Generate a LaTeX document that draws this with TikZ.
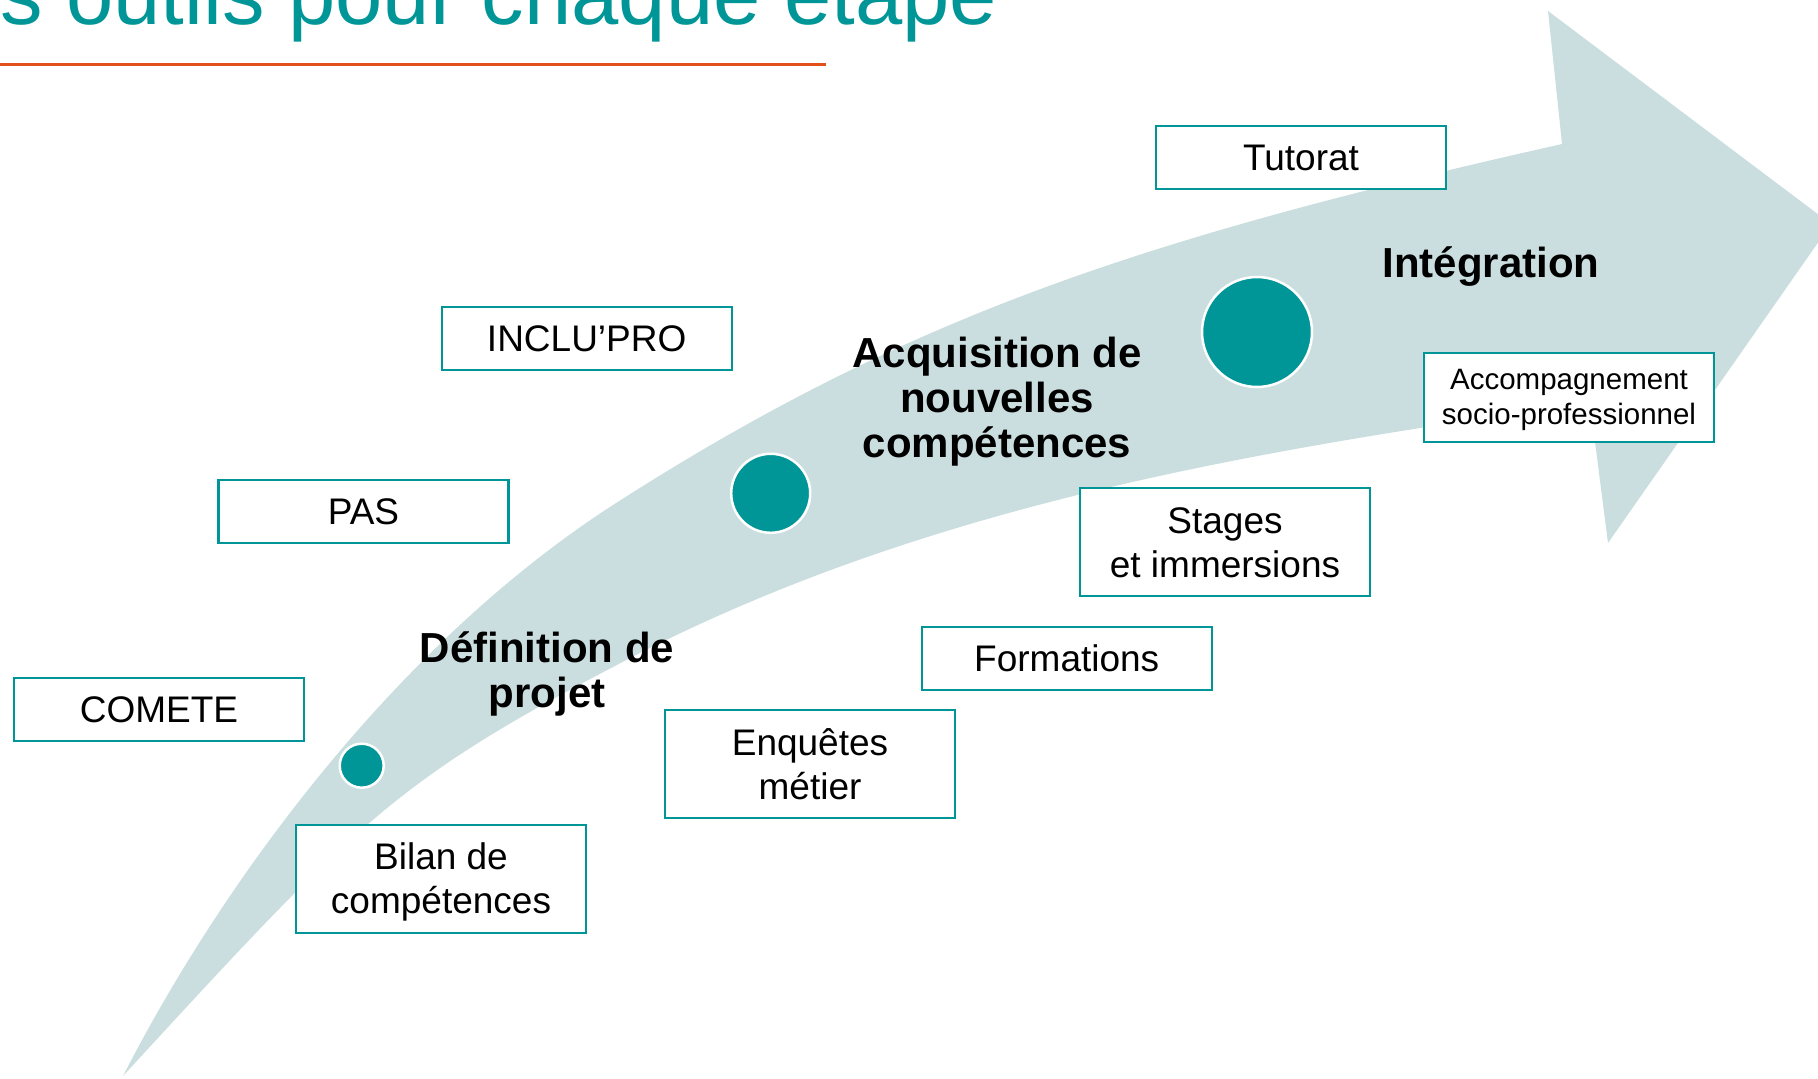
\documentclass[tikz,border=0pt]{standalone}
\usepackage{fontspec}
\setmainfont{Liberation Sans}
\definecolor{tealc}{RGB}{0,150,152}
\definecolor{orangec}{RGB}{226,80,28}
\definecolor{arrowc}{RGB}{203,222,223}
\newcommand{\topstrut}[1]{\rule{0pt}{#1}}
\newcommand{\botstrut}[1]{\rule[-#1]{0pt}{0pt}}
\begin{document}
\begin{tikzpicture}[x=1pt,y=-1pt,
  toolbox/.style={draw=tealc, line width=2.2pt, fill=white, minimum width=290pt,
    minimum height=63pt, inner sep=0pt, align=center, text=black,
    font=\fontsize{37}{44}\selectfont},
  stagelabel/.style={font=\bfseries\fontsize{42}{45}\selectfont, align=center, inner sep=0pt, text=black},
  stagedot/.style={circle, fill=tealc, draw=white, line width=2.5pt, inner sep=0pt}]
\useasboundingbox (0,0) rectangle (1818,1079);
\clip (0,0) rectangle (1818,1079);

% big curved arrow
\fill[arrowc] (123,1076) .. controls (225,877) and (399,643) .. (613,505)
  .. controls (907,316) and (1144,238) .. (1562,144)
  -- (1548,11) -- (1831,224) -- (1608,543) -- (1590,403)
  .. controls (1240,452) and (913,508) .. (613,667)
  .. controls (393,782) and (353,826) .. (123,1076) -- cycle;

% title
\node[anchor=base west, inner sep=0pt, text=tealc, font=\fontsize{85}{100}\selectfont] (title) at (0,24) {s outils pour chaque étape};
\coordinate (l1) at (0,64.5);
\coordinate (l2) at (826,64.5);
\draw[orangec, line width=2.6pt] (l1) -- (l2);

% tool boxes
\node[toolbox] (tutorat) at (1301,157.5) {Tutorat};
\node[toolbox] (inclupro) at (586.7,338.5) {INCLU’PRO};
\node[toolbox] (pas) at (363.5,511.5) {PAS};
\node[toolbox] (comete) at (159,709.5) {COMETE};
\node[toolbox, minimum height=108pt] (bilan) at (441,878.7) {\topstrut{36pt}Bilan de\\compétences\botstrut{9.5pt}};
\node[toolbox, minimum height=108pt] (enquetes) at (810,764) {\topstrut{36pt}Enquêtes\\métier\botstrut{9.5pt}};
\node[toolbox] (formations) at (1066.7,658.5) {Formations};
\node[toolbox, minimum height=108pt] (stages) at (1225,542) {\topstrut{36pt}Stages\\et immersions\botstrut{9.5pt}};
\node[toolbox, minimum height=89pt, font=\fontsize{29.5}{35}\selectfont] (accomp) at (1569,397.5) {\topstrut{26pt}Accompagnement\\socio-professionnel};

% stage dots
\node[stagedot, minimum size=44pt] (d1) at (361.7,765.7) {};
\node[stagedot, minimum size=79pt] (d2) at (770.7,493.3) {};
\node[stagedot, minimum size=110pt] (d3) at (1257,332) {};

% stage labels
\node[stagelabel] (s1) at (547,673.5) {Définition de\\projet};
\node[stagelabel] (s2) at (997,401.6) {Acquisition de\\nouvelles\\compétences};
\node[stagelabel, anchor=base] (s3) at (1491,277) {Intégration};
\end{tikzpicture}
\end{document}
